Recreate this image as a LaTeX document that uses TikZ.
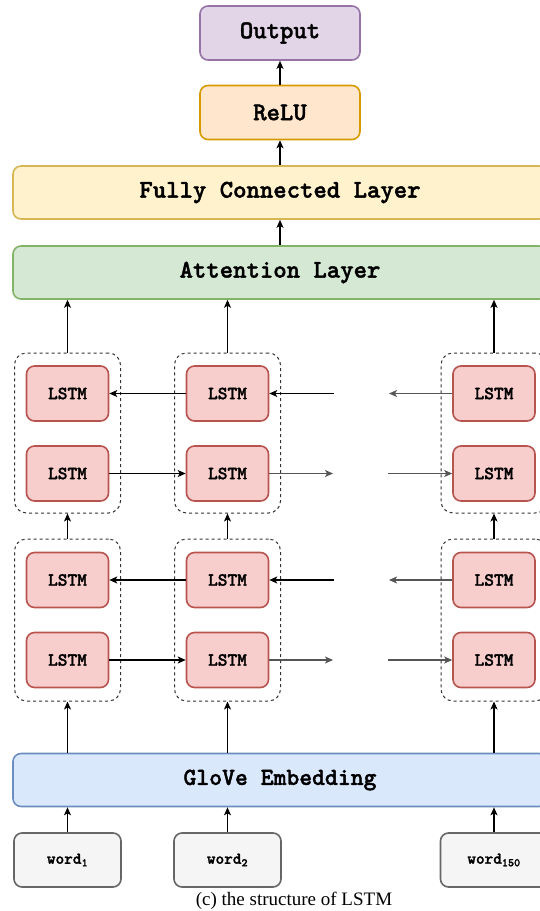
\documentclass[tikz,border=0pt]{standalone}
\usepackage{fontspec}
\setmainfont{Liberation Serif}
\newfontfamily\codefont{lmmonolt10-bold.otf}[FakeBold=1.6]
\usetikzlibrary{arrows.meta}

\definecolor{outFill}{HTML}{E1D5E7}\definecolor{outLine}{HTML}{9673A6}
\definecolor{reluFill}{HTML}{FFE6CC}\definecolor{reluLine}{HTML}{D79B00}
\definecolor{fcFill}{HTML}{FFF2CC}\definecolor{fcLine}{HTML}{D6B656}
\definecolor{attFill}{HTML}{D5E8D4}\definecolor{attLine}{HTML}{82B366}
\definecolor{lstmFill}{HTML}{F8CECC}\definecolor{lstmLine}{HTML}{B85450}
\definecolor{gloveFill}{HTML}{DAE8FC}\definecolor{gloveLine}{HTML}{6C8EBF}
\definecolor{wordFill}{HTML}{F5F5F5}\definecolor{wordLine}{HTML}{666666}
\definecolor{grayArrow}{HTML}{555555}

\begin{document}
\begin{tikzpicture}[x=1pt,y=-1pt,
  box/.style={draw, rounded corners=8pt, line width=1.6pt, inner sep=0pt,
    font=\codefont\fontsize{25.5}{28}\selectfont},
  layer/.style={box, minimum width=534pt, minimum height=53pt},
  small/.style={box, minimum width=160pt, minimum height=54pt},
  lstm/.style={box, fill=lstmFill, draw=lstmLine, minimum width=82pt, minimum height=55pt,
    font=\codefont\fontsize{18.5}{20}\selectfont},
  pair/.style={draw=black!80, dashed, dash pattern=on 3pt off 3pt, line width=1pt,
    rounded corners=12pt, minimum width=106pt, inner sep=0pt},
  word/.style={box, fill=wordFill, draw=wordLine, minimum width=107pt, minimum height=54pt,
    font=\codefont\fontsize{16.5}{18}\selectfont},
  arr/.style={draw=black, line width=1.1pt, -{Stealth[length=8pt,width=7pt,inset=2pt]}},
  garr/.style={arr, draw=grayArrow}
]
\useasboundingbox (0,0) rectangle (540,911);
\clip (0,0) rectangle (540,911);

% top of the network
\node[small, fill=outFill, draw=outLine] (out) at (280,33) {Output};
\node[small, fill=reluFill, draw=reluLine] (relu) at (280,112.5) {ReLU};
\node[layer, fill=fcFill, draw=fcLine] (fc) at (280,192.5) {Fully Connected Layer};
\node[layer, fill=attFill, draw=attLine] (att) at (280,272.5) {Attention Layer};

% bidirectional LSTM stacks: columns 1, 2 and 150
\foreach \c/\x in {a/67.5,b/227.5,c/494}{
  \node[pair, minimum height=160pt] (U\c) at (\x,433) {};
  \node[pair, minimum height=162pt] (L\c) at (\x,620) {};
  \node[lstm] (Ub\c) at (\x,393.5) {LSTM};
  \node[lstm] (Uf\c) at (\x,473.5) {LSTM};
  \node[lstm] (Lb\c) at (\x,580) {LSTM};
  \node[lstm] (Lf\c) at (\x,660) {LSTM};
}

% embedding and inputs
\node[layer, fill=gloveFill, draw=gloveLine,
  font=\codefont\fontsize{24.5}{27}\selectfont] (glove) at (280,780) {GloVe Embedding};
\node[word] (w1) at (67.5,860) {word\textsubscript{1}};
\node[word] (w2) at (227.5,860) {word\textsubscript{2}};
\node[word] (w150) at (494,860) {word\textsubscript{150}};

\node[font=\fontsize{19}{21}\selectfont] (cap) at (294,901) {(c) the structure of LSTM};

% vertical flow
\draw[arr] (relu) -- (out);
\draw[arr] (fc.north -| relu) -- (relu);
\draw[arr] (att.north -| relu) -- (fc.south -| relu);
\foreach \c in {a,b,c}{
  \draw[arr] (U\c) -- (U\c |- att.south);
  \draw[arr] (L\c) -- (U\c);
  \draw[arr] (L\c |- glove.north) -- (L\c);
}
\draw[arr] (w1) -- (w1 |- glove.south);
\draw[arr] (w2) -- (w2 |- glove.south);
\draw[arr] (w150) -- (w150 |- glove.south);

% recurrent connections; the gap stands for the hidden time steps
\foreach \r in {U,L}{
  \coordinate (\r bIn)  at (334,0 |- \r bb);
  \coordinate (\r bOut) at (389,0 |- \r bb);
  \coordinate (\r fOut) at (333,0 |- \r fb);
  \coordinate (\r fIn)  at (388,0 |- \r fb);
  \draw[arr] (\r bb) -- (\r ba);
  \draw[arr] (\r bIn) -- (\r bb);
  \draw[garr] (\r bc) -- (\r bOut);
  \draw[arr] (\r fa) -- (\r fb);
  \draw[garr] (\r fb) -- (\r fOut);
  \draw[garr] (\r fIn) -- (\r fc);
}
\end{tikzpicture}
\end{document}
